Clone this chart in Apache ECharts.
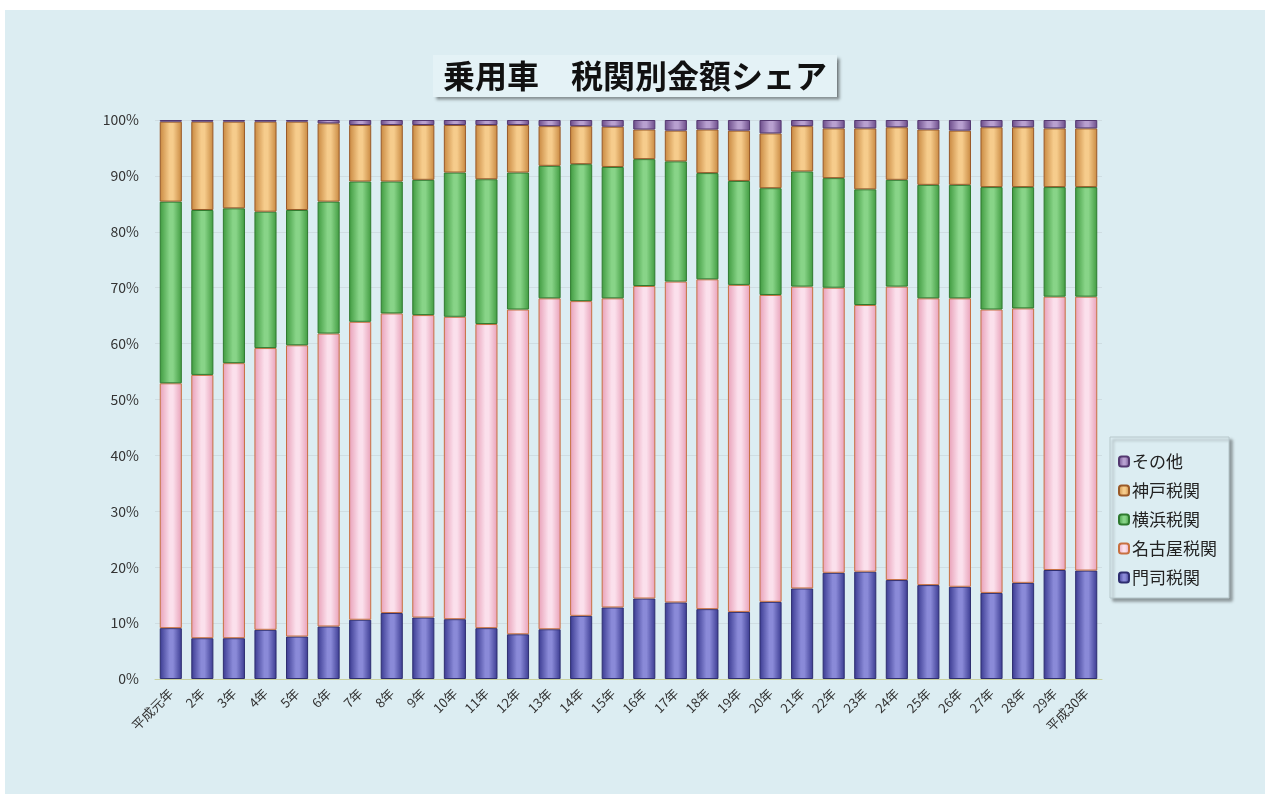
<!DOCTYPE html>
<html>
<head>
<meta charset="utf-8">
<title>乗用車 税関別金額シェア</title>
<script src="https://cdn.jsdelivr.net/npm/echarts@6/dist/echarts.min.js"></script>
<style>
  html, body { margin: 0; padding: 0; background: #fff; }
  #main { position: absolute; left: 5px; top: 10px; width: 1260px; height: 784px; background: #dcedf2; }
</style>
</head>
<body>
<div id="main"></div>
<script>
// 年度
var years = ['平成元年','2年','3年','4年','5年','6年','7年','8年','9年','10年',
  '11年','12年','13年','14年','15年','16年','17年','18年','19年','20年',
  '21年','22年','23年','24年','25年','26年','27年','28年','29年','平成30年'];

// 各税関のシェア(%)
var moji    = [9.1, 7.3, 7.3, 8.8, 7.6, 9.4, 10.6, 11.8, 11.0, 10.7,
               9.1, 8.0, 8.9, 11.3, 12.8, 14.4, 13.7, 12.5, 12.0, 13.8,
               16.2, 19.0, 19.2, 17.7, 16.8, 16.5, 15.4, 17.2, 19.5, 19.4];
var nagoya  = [43.8, 47.1, 49.2, 50.4, 52.1, 52.4, 53.3, 53.6, 54.1, 54.1,
               54.4, 58.1, 59.2, 56.3, 55.3, 55.9, 57.4, 59.0, 58.5, 54.9,
               54.0, 51.0, 47.7, 52.5, 51.3, 51.6, 50.7, 49.1, 48.9, 49.0];
var yokohama= [32.5, 29.5, 27.7, 24.4, 24.2, 23.6, 25.1, 23.6, 24.2, 25.8,
               25.9, 24.5, 23.7, 24.5, 23.5, 22.7, 21.5, 19.0, 18.6, 19.1,
               20.6, 19.6, 20.7, 19.1, 20.3, 20.3, 21.9, 21.7, 19.6, 19.6];
var kobe    = [14.3, 15.8, 15.5, 16.1, 15.8, 14.0, 10.1, 10.1, 9.8, 8.5,
               9.7, 8.5, 7.1, 6.8, 7.2, 5.3, 5.5, 7.8, 9.0, 9.8,
               8.1, 8.9, 10.9, 9.4, 9.9, 9.7, 10.7, 10.7, 10.5, 10.5];
var other   = [0.3, 0.3, 0.3, 0.3, 0.3, 0.6, 0.9, 0.9, 0.9, 0.9,
               0.9, 0.9, 1.1, 1.1, 1.2, 1.7, 1.9, 1.7, 1.9, 2.4,
               1.1, 1.5, 1.5, 1.3, 1.7, 1.9, 1.3, 1.3, 1.5, 1.5];

var yTicks = [0, 10, 20, 30, 40, 50, 60, 70, 80, 90, 100];

// 円柱っぽく見せるための横グラデーション
function cyl(edge, mid) {
  return new echarts.graphic.LinearGradient(0, 0, 1, 0, [
    {offset: 0, color: edge},
    {offset: 0.45, color: mid},
    {offset: 0.6, color: mid},
    {offset: 1, color: edge}
  ]);
}

function bar(name, data, edge, mid, border) {
  return {
    name: name,
    type: 'bar',
    stack: 'share',
    barCategoryGap: '30%',
    data: data,
    itemStyle: { color: cyl(edge, mid), borderColor: border, borderWidth: 1 }
  };
}

var chart = echarts.init(document.getElementById('main'));

var option = {
  backgroundColor: '#dcedf2',
  animation: false,
  title: {
    text: '乗用車　税関別金額シェア',
    left: 'center',
    top: 45,
    padding: [5, 10, 5, 10],
    backgroundColor: '#e4f2f6',
    shadowColor: 'rgba(0,0,0,0.45)',
    shadowBlur: 3,
    shadowOffsetX: 3,
    shadowOffsetY: 3,
    textStyle: {
      fontFamily: 'Noto Sans CJK JP',
      fontSize: 32,
      fontWeight: 'bold',
      color: '#111'
    }
  },
  legend: {
    orient: 'vertical',
    left: 1105,
    top: 427,
    itemWidth: 10,
    itemHeight: 10,
    itemGap: 12,
    padding: [16, 12, 12, 8],
    backgroundColor: '#dcedf2',
    borderColor: '#b8c8cc',
    borderWidth: 1,
    shadowColor: 'rgba(0,0,0,0.35)',
    shadowBlur: 3,
    shadowOffsetX: 3,
    shadowOffsetY: 3,
    data: ['その他', '神戸税関', '横浜税関', '名古屋税関', '門司税関'],
    textStyle: { fontFamily: 'Noto Sans CJK JP', fontSize: 17, color: '#222', padding: [0, 0, 0, -2] }
  },
  grid: { left: 150, right: 163, top: 110, bottom: 115 },
  xAxis: {
    type: 'category',
    data: years,
    axisTick: { show: false },
    axisLine: { lineStyle: { color: '#c8d0a0' } },
    axisLabel: {
      rotate: 45,
      interval: 0,
      margin: 12,
      fontFamily: 'Noto Sans CJK JP',
      fontSize: 13,
      color: '#333'
    }
  },
  yAxis: {
    type: 'value',
    min: 0,
    max: 100,
    interval: 10,
    axisLine: { show: false },
    axisTick: { show: false },
    splitLine: { lineStyle: { color: '#cfdde2' } },
    axisLabel: {
      formatter: function (v) { return yTicks.indexOf(v) >= 0 ? v + '%' : ''; },
      fontFamily: 'Noto Sans CJK JP',
      fontSize: 14,
      color: '#333',
      margin: 16
    }
  },
  series: [
    bar('門司税関', moji, '#3a3a90', '#8a8ad8', '#2e2e70'),
    bar('名古屋税関', nagoya, '#e8a0b8', '#fbe0ec', '#c87040'),
    bar('横浜税関', yokohama, '#3f9a3f', '#88d488', '#2f7a2f'),
    bar('神戸税関', kobe, '#c88840', '#f6cc8c', '#9a5a28'),
    bar('その他', other, '#6a4a88', '#b8a0d0', '#543870')
  ]
};

chart.setOption(option);
</script>
</body>
</html>
